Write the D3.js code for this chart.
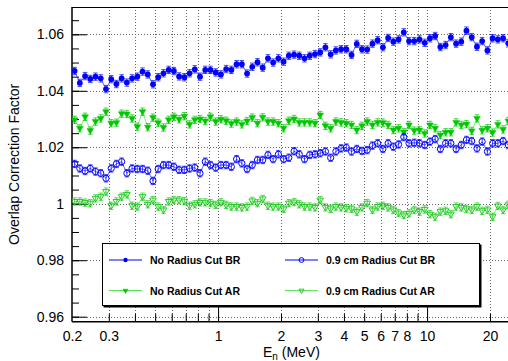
<!DOCTYPE html>
<html>
<head>
<meta charset="utf-8">
<script src="https://cdn.jsdelivr.net/npm/d3@7"></script>
<style>
  body { margin: 0; background: #fff; }
  svg { display: block; font-family: "Liberation Sans", Arial, Helvetica, sans-serif; }
</style>
</head>
<body>
<div id="chart"></div>
<script>
// bin centres (MeV), 40 log bins per decade
var energies = [
  0.2058, 0.2180, 0.2310, 0.2446, 0.2591, 0.2745, 0.2908, 0.3080, 0.3262, 0.3456,
  0.3660, 0.3877, 0.4107, 0.4350, 0.4608, 0.4881, 0.5170, 0.5477, 0.5801, 0.6145,
  0.6509, 0.6895, 0.7303, 0.7736, 0.8194, 0.8680, 0.9194, 0.9739, 1.0316, 1.0927,
  1.1574, 1.226, 1.299, 1.376, 1.457, 1.543, 1.635, 1.732, 1.834, 1.943,
  2.058, 2.180, 2.310, 2.446, 2.591, 2.745, 2.908, 3.080, 3.262, 3.456,
  3.660, 3.877, 4.107, 4.350, 4.608, 4.881, 5.170, 5.477, 5.801, 6.145,
  6.509, 6.895, 7.303, 7.736, 8.194, 8.680, 9.194, 9.739, 10.32, 10.93,
  11.57, 12.26, 12.99, 13.76, 14.57, 15.43, 16.35, 17.32, 18.34, 19.43,
  20.58, 21.80, 23.10, 24.46
];

var noCutBR = [
  1.0470, 1.0428, 1.0452, 1.0442, 1.0450, 1.0444, 1.0406, 1.0441, 1.0424, 1.0444,
  1.0429, 1.0444, 1.0450, 1.0468, 1.0458, 1.0423, 1.0448, 1.0462, 1.0474, 1.0470,
  1.0451, 1.0448, 1.0462, 1.0476, 1.0450, 1.0474, 1.0474, 1.0465, 1.0458, 1.0477,
  1.0474, 1.0494, 1.0494, 1.0461, 1.0485, 1.0501, 1.0482, 1.0515, 1.0500, 1.0515,
  1.0503, 1.0524, 1.0528, 1.0524, 1.0515, 1.0524, 1.0530, 1.0536, 1.0554, 1.0529,
  1.0543, 1.0547, 1.0547, 1.0527, 1.0566, 1.0547, 1.0546, 1.0567, 1.0579, 1.0554,
  1.0587, 1.0574, 1.0582, 1.0607, 1.0576, 1.0576, 1.0582, 1.0570, 1.0586, 1.0594,
  1.0555, 1.0562, 1.0590, 1.0567, 1.0574, 1.0613, 1.0590, 1.0556, 1.0576, 1.0543,
  1.0586, 1.0582, 1.0586, 1.0568
];

var noCutAR = [
  1.0297, 1.0267, 1.0308, 1.0259, 1.0291, 1.0302, 1.0326, 1.0285, 1.0287, 1.0319,
  1.0318, 1.0302, 1.0273, 1.0326, 1.0271, 1.0305, 1.0287, 1.0270, 1.0297, 1.0308,
  1.0299, 1.0310, 1.0281, 1.0297, 1.0300, 1.0293, 1.0308, 1.0291, 1.0299, 1.0294,
  1.0284, 1.0291, 1.0281, 1.0293, 1.0305, 1.0285, 1.0306, 1.0291, 1.0291, 1.0285,
  1.0267, 1.0294, 1.0300, 1.0288, 1.0288, 1.0288, 1.0285, 1.0314, 1.0276, 1.0267,
  1.0291, 1.0288, 1.0285, 1.0279, 1.0261, 1.0276, 1.0291, 1.0279, 1.0288, 1.0287,
  1.0279, 1.0261, 1.0267, 1.0254, 1.0279, 1.0259, 1.0261, 1.0249, 1.0279, 1.0267,
  1.0243, 1.0253, 1.0253, 1.0288, 1.0279, 1.0282, 1.0258, 1.0302, 1.0260, 1.0267,
  1.0252, 1.0281, 1.0263, 1.0293
];

var cut09BR = [
  1.0141, 1.0125, 1.0116, 1.0125, 1.0114, 1.0108, 1.0090, 1.0125, 1.0141, 1.0149,
  1.0108, 1.0125, 1.0123, 1.0123, 1.0117, 1.0081, 1.0123, 1.0137, 1.0137, 1.0131,
  1.0120, 1.0120, 1.0125, 1.0128, 1.0108, 1.0149, 1.0137, 1.0128, 1.0137, 1.0137,
  1.0131, 1.0158, 1.0143, 1.0123, 1.0137, 1.0155, 1.0155, 1.0173, 1.0158, 1.0175,
  1.0158, 1.0163, 1.0186, 1.0175, 1.0158, 1.0173, 1.0175, 1.0179, 1.0185, 1.0163,
  1.0185, 1.0196, 1.0199, 1.0185, 1.0194, 1.0187, 1.0190, 1.0206, 1.0214, 1.0194,
  1.0214, 1.0202, 1.0210, 1.0236, 1.0214, 1.0216, 1.0214, 1.0208, 1.0220, 1.0229,
  1.0194, 1.0214, 1.0214, 1.0194, 1.0208, 1.0226, 1.0222, 1.0196, 1.0220, 1.0185,
  1.0214, 1.0214, 1.0222, 1.0208
];

var cut09AR = [
  1.0008, 1.0008, 1.0004, 1.0002, 1.0019, 1.0025, 1.0043, 0.9993, 1.0008, 1.0025,
  1.0033, 0.9993, 0.9990, 1.0025, 0.9998, 1.0013, 0.9990, 0.9978, 1.0008, 1.0013,
  1.0013, 1.0009, 0.9993, 0.9998, 1.0005, 1.0005, 1.0002, 0.9996, 1.0005, 0.9996,
  0.9990, 0.9990, 0.9987, 0.9990, 1.0010, 1.0002, 1.0017, 0.9993, 0.9990, 0.9990,
  0.9982, 1.0002, 1.0006, 0.9998, 0.9990, 0.9990, 0.9987, 1.0013, 0.9987, 0.9982,
  0.9990, 0.9987, 0.9984, 0.9982, 0.9972, 0.9987, 1.0002, 0.9978, 0.9990, 0.9993,
  0.9987, 0.9978, 0.9967, 0.9960, 0.9966, 0.9978, 0.9972, 0.9980, 0.9963, 0.9954,
  0.9972, 0.9975, 0.9963, 0.9990, 0.9987, 0.9982, 0.9978, 0.9990, 0.9975, 0.9978,
  0.9954, 0.9992, 0.9978, 0.9996
];

// statistical error (half length of bars), read roughly
var errNoCut = 0.0013;
var err09 = 0.0013;

var xMajor = [1, 10];
var xMinor = [0.3, 0.4, 0.5, 0.6, 0.7, 0.8, 0.9, 2, 3, 4, 5, 6, 7, 8, 9, 20];
var xLabels = [0.2, 0.3, 1, 2, 3, 4, 5, 6, 7, 8, 10, 20];
var yMajor = [0.96, 0.98, 1.00, 1.02, 1.04, 1.06];
var yMinor = [0.96, 0.965, 0.97, 0.975, 0.98, 0.985, 0.99, 0.995, 1.0, 1.005, 1.01, 1.015,
              1.02, 1.025, 1.03, 1.035, 1.04, 1.045, 1.05, 1.055, 1.06, 1.065];

var series = [
  { name: "No Radius Cut BR", vals: noCutBR, err: errNoCut, color: "#0000ff", marker: "circle", filled: true },
  { name: "No Radius Cut AR", vals: noCutAR, err: errNoCut, color: "#00c800", line: "#33dd33", marker: "tri", filled: true },
  { name: "0.9 cm Radius Cut BR", vals: cut09BR, err: err09, color: "#0000ff", marker: "circle", filled: false },
  { name: "0.9 cm Radius Cut AR", vals: cut09AR, err: err09, color: "#22cc22", line: "#44dd44", marker: "tri", filled: false }
];

var width = 508, height = 361;
var padL = 72, padR = 511, padT = 7, padB = 321.7;

var svg = d3.select("#chart").append("svg")
  .attr("width", width)
  .attr("height", height);

var x = d3.scaleLog().domain([0.2, 25.2]).range([padL, padR]);
var y = d3.scaleLinear().domain([0.95823, 1.06967]).range([padB, padT]);

svg.append("clipPath").attr("id", "plotclip")
  .append("rect").attr("x", padL).attr("y", padT)
  .attr("width", padR - padL).attr("height", padB - padT);

//grid
var grid = svg.append("g").attr("class", "grid");
grid.selectAll("line.vg").data(xMinor.concat(xMajor)).enter()
  .append("line")
  .attr("x1", function(d) { return Math.round(x(d)) + 0.5; })
  .attr("x2", function(d) { return Math.round(x(d)) + 0.5; })
  .attr("y1", padT).attr("y2", padB)
  .attr("stroke", "#666").attr("stroke-dasharray", "1,2");
grid.selectAll("line.hg").data(yMajor).enter()
  .append("line")
  .attr("y1", function(d) { return Math.round(y(d)) + 0.5; })
  .attr("y2", function(d) { return Math.round(y(d)) + 0.5; })
  .attr("x1", padL).attr("x2", padR)
  .attr("stroke", "#666").attr("stroke-dasharray", "1,2");

// axes
var yAxisMinor = d3.axisLeft(y).tickValues(yMinor).tickSize(-7).tickFormat("");
var yAxis = d3.axisLeft(y).tickValues(yMajor).tickSize(-15).tickPadding(8)
  .tickFormat(function(d) { return +d.toFixed(2); });
var xAxisMinor = d3.axisBottom(x).tickValues(xMinor).tickSize(-8).tickFormat("");
var xAxisMajor = d3.axisBottom(x).tickValues(xMajor).tickSize(-15).tickFormat("");
var xAxisLab = d3.axisBottom(x).tickValues(xLabels).tickSize(0).tickPadding(9)
  .tickFormat(function(d) { return d; });

svg.append("g").attr("transform", "translate(" + padL + ",0)").call(yAxisMinor);
svg.append("g").attr("class", "yAxis").attr("transform", "translate(" + padL + ",0)").call(yAxis);
svg.append("g").attr("transform", "translate(0," + padB + ")").call(xAxisMinor);
svg.append("g").attr("transform", "translate(0," + padB + ")").call(xAxisMajor);
svg.append("g").attr("class", "xAxis").attr("transform", "translate(0," + padB + ")").call(xAxisLab);

svg.selectAll(".domain").remove();
svg.selectAll(".tick line").attr("stroke", "#000");
svg.selectAll(".tick text").attr("font-size", 14).attr("fill", "#000")
  .style("font-family", "'Liberation Sans', Arial, sans-serif");

// frame
svg.append("line").attr("x1", padL).attr("x2", padR).attr("y1", padT + 0.5).attr("y2", padT + 0.5)
  .attr("stroke", "#000");
svg.append("line").attr("x1", padL).attr("x2", padL).attr("y1", padT).attr("y2", padB)
  .attr("stroke", "#000").attr("stroke-width", 1.5);
svg.append("line").attr("x1", padL).attr("x2", padR).attr("y1", padB).attr("y2", padB)
  .attr("stroke", "#000").attr("stroke-width", 1.5);

// markers
function drawMarker(g, s, cx, cy, sz) {
  if (s.marker === "circle") {
    g.append("circle").attr("cx", cx).attr("cy", cy).attr("r", s.filled ? sz : sz + 0.2)
      .attr("fill", s.filled ? s.color : "none")
      .attr("stroke", s.color).attr("stroke-width", s.filled ? 0 : 1);
  } else {
    var h = sz * 1.15;
    var pts = [[cx - h, cy - h * 0.6], [cx + h, cy - h * 0.6], [cx, cy + h * 1.1]];
    g.append("polygon").attr("points", pts.map(function(p) { return p.join(","); }).join(" "))
      .attr("fill", s.filled ? s.color : "none")
      .attr("stroke", s.color).attr("stroke-width", s.filled ? 0.5 : 1)
      .attr("stroke-linejoin", "miter");
  }
}

var plot = svg.append("g").attr("clip-path", "url(#plotclip)");

series.forEach(function(s) {
  var g = plot.append("g");
  var pts = energies.map(function(e, i) { return [x(e), y(s.vals[i])]; });
  g.append("path")
    .attr("d", d3.line()(pts))
    .attr("fill", "none")
    .attr("stroke", s.line || s.color)
    .attr("stroke-width", 1)
    .attr("stroke-opacity", 0.6);
  energies.forEach(function(e, i) {
    var cx = x(e);
    var y1 = y(s.vals[i] - s.err), y2 = y(s.vals[i] + s.err);
    g.append("line").attr("x1", cx).attr("x2", cx).attr("y1", y1).attr("y2", y2)
      .attr("stroke", s.color).attr("stroke-opacity", 0.7);
    [y1, y2].forEach(function(yy) {
      g.append("line").attr("x1", cx - 2.3).attr("x2", cx + 2.3).attr("y1", yy).attr("y2", yy)
        .attr("stroke", s.color).attr("stroke-opacity", 0.7);
    });
  });
  energies.forEach(function(e, i) {
    drawMarker(g, s, x(e), y(s.vals[i]), 2.9);
  });
});

// legend
var lg = svg.append("g");
lg.append("rect").attr("x", 103.5).attr("y", 244.5).attr("width", 378).attr("height", 63)
  .attr("fill", "#000");
lg.append("rect").attr("x", 102.5).attr("y", 243.5).attr("width", 377).attr("height", 62)
  .attr("fill", "#fff").attr("stroke", "#000");

var legPos = [[109, 260], [109, 290.7], [285, 260], [285, 290.7]];
series.forEach(function(s, i) {
  var lx = legPos[i][0], ly = legPos[i][1];
  lg.append("line").attr("x1", lx).attr("x2", lx + 33).attr("y1", ly).attr("y2", ly)
    .attr("stroke", s.line || s.color).attr("stroke-width", 1);
  drawMarker(lg, s, lx + 16.5, ly, 2.2);
  lg.append("text").attr("x", lx + 41).attr("y", ly + 4)
    .attr("font-size", 10.5).attr("font-weight", "bold")
    .text(s.name);
});

// axis titles
svg.append("text")
  .attr("transform", "translate(19," + ((padT + padB) / 2) + ")rotate(-90)")
  .attr("text-anchor", "middle")
  .attr("font-size", 14)
  .text("Overlap Correction Factor");

var xt = svg.append("text").attr("x", 263).attr("y", 357).attr("font-size", 14);
xt.append("tspan").text("E");
xt.append("tspan").attr("font-size", 10).attr("dy", 3).text("n");
xt.append("tspan").attr("dy", -3).text(" (MeV)");
</script>
</body>
</html>
